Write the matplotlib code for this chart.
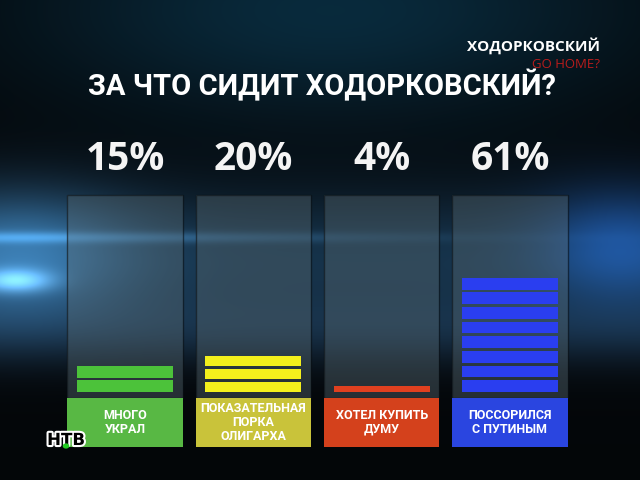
import numpy as np
import matplotlib
matplotlib.use('Agg')
import matplotlib.pyplot as plt
from matplotlib.patches import Rectangle, Circle
import matplotlib.patheffects as pe

# ---- data ----
categories = ["МНОГО\nУКРАЛ", "ПОКАЗАТЕЛЬНАЯ\nПОРКА\nОЛИГАРХА",
              "ХОТЕЛ КУПИТЬ\nДУМУ", "ПОССОРИЛСЯ\nС ПУТИНЫМ"]
values = [15, 20, 4, 61]
pct_labels = ["15%", "20%", "4%", "61%"]
title = "ЗА ЧТО СИДИТ ХОДОРКОВСКИЙ?"
show_name = "ХОДОРКОВСКИЙ"
show_sub = "GO HOME?"
bar_colors = ['#4cc23a', '#f4f01c', '#e0401f', '#2a3ef0']
box_colors = ['#58b844', '#c9c33a', '#d4411c', '#2a45e0']

W, H = 640, 480
fig = plt.figure(figsize=(6.4, 4.8), dpi=100)
fig.patch.set_facecolor('#04070a')

# ---- background glow ----
bg = fig.add_axes([0, 0, 1, 1])
yy, xx = np.mgrid[0:H, 0:W].astype(float)
img = np.zeros((H, W, 3))
img += np.array([0.015, 0.025, 0.035])
g = np.exp(-((xx - 330) ** 2 / (2 * 220 ** 2) + (yy - 10) ** 2 / (2 * 80 ** 2)))
img += g[..., None] * np.array([0.02, 0.14, 0.20])
band = np.exp(-((yy - 260) ** 2) / (2 * 50 ** 2))
img += band[..., None] * np.array([0.07, 0.17, 0.25])
left = np.exp(-((yy - 255) ** 2 / (2 * 45 ** 2) + (xx - 20) ** 2 / (2 * 80 ** 2)))
img += left[..., None] * np.array([0.15, 0.30, 0.42])
streak = np.exp(-((yy - 237) ** 2) / (2 * 4 ** 2)) * np.exp(-(xx ** 2) / (2 * 250 ** 2))
img += streak[..., None] * np.array([0.12, 0.22, 0.30])
spot = np.exp(-((yy - 280) ** 2 / (2 * 8 ** 2) + (xx - 15) ** 2 / (2 * 25 ** 2)))
img += spot[..., None] * np.array([0.35, 0.5, 0.6])
right = np.exp(-((yy - 245) ** 2 / (2 * 40 ** 2) + (xx - 620) ** 2 / (2 * 60 ** 2)))
img += right[..., None] * np.array([0.04, 0.15, 0.35])
bottom = np.exp(-((yy - 330) ** 2) / (2 * 25 ** 2))
img += bottom[..., None] * np.array([0.05, 0.10, 0.15])
img = np.clip(img, 0, 1)
bg.imshow(img, extent=[0, W, H, 0], aspect='auto', interpolation='bilinear')
bg.set_xlim(0, W)
bg.set_ylim(H, 0)
bg.axis('off')

# ---- main axes: baseline at 392 px from top, 1.92 px per % ----
ppu = 1.92
ymin, ymax = -30, 105
ax_h = (ymax - ymin) * ppu
ax_bottom = H - (392 + (-ymin) * ppu)
ax_left = 61
ax_w = 513
ax = fig.add_axes([ax_left / W, ax_bottom / H, ax_w / W, ax_h / H])
ax.set_xlim(-0.5, 3.5)
ax.set_ylim(ymin, ymax)
ax.patch.set_alpha(0)
ax.axis('off')

x = np.arange(len(values))
panel_w = 0.9
for i in x:
    ax.add_patch(Rectangle((i - panel_w / 2, -3), panel_w, 105.5,
                           facecolor='#5a6c74', alpha=0.40, edgecolor='none', zorder=1))
    ax.add_patch(Rectangle((i - panel_w / 2, -3), panel_w, 105.5,
                           facecolor='none', edgecolor='#0a1014', lw=1.0, alpha=0.6, zorder=1))

# striped bars
unit = 7.5
gap = 1.6
bw = 0.75
for i, v in enumerate(values):
    n = max(1, int(round(v / unit)))
    h = v / n
    bottoms = np.arange(n) * h
    ax.bar([i] * n, [max(h - gap, h * 0.8)] * n, bottom=bottoms, width=bw,
           color=bar_colors[i], edgecolor='none', zorder=3)

# label boxes
box_bot, box_top = -28.6, -3.1
for i in x:
    ax.add_patch(Rectangle((i - panel_w / 2, box_bot), panel_w, box_top - box_bot,
                           facecolor=box_colors[i], edgecolor='none', zorder=4))
    ax.text(i, (box_bot + box_top) / 2, categories[i], ha='center', va='center',
            color='white', fontsize=9, fontweight='bold', linespacing=1.1,
            family=['Roboto', 'DejaVu Sans'], zorder=5)

# percent labels
for i in x:
    ax.text(i, 121, pct_labels[i], ha='center', va='center', color='#f4f4f4',
            fontsize=28, fontweight='bold', family=['Open Sans', 'DejaVu Sans'],
            clip_on=False, zorder=6)

# title and captions
fig.text(322 / W, 1 - 85 / H, title, ha='center', va='center', color='white',
         fontsize=21, fontweight='bold', family=['Roboto', 'DejaVu Sans'])
fig.text(600 / W, 1 - 46 / H, show_name, ha='right', va='center', color='white',
         fontsize=11, fontweight='bold', family=['Open Sans', 'DejaVu Sans'])
fig.text(600 / W, 1 - 65 / H, show_sub, ha='right', va='center', color='#b81c1c',
         fontsize=9.5, family=['Open Sans', 'DejaVu Sans'])

# channel logo
fig.text(66 / W, 1 - 440 / H, "НТВ", ha='center', va='center', color='black',
         fontsize=12, fontweight='bold', family=['DejaVu Sans'],
         path_effects=[pe.withStroke(linewidth=3, foreground='white')])
fig.add_artist(Circle((66 / W, 1 - 446 / H), 0.004, transform=fig.transFigure,
                      color='#22cc22', zorder=10))

fig.savefig('out.png', dpi=100, facecolor=fig.get_facecolor())
